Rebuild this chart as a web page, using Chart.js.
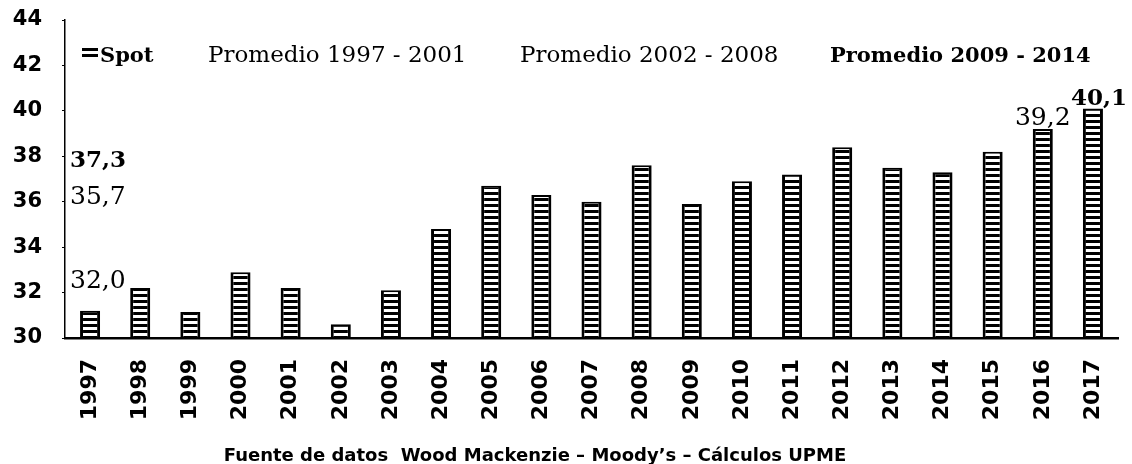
<!DOCTYPE html>
<html>
<head>
<meta charset="utf-8">
<script src="https://cdn.jsdelivr.net/npm/chart.js@4.4.1/dist/chart.umd.min.js"></script>
<style>
  html, body { margin: 0; padding: 0; background: #fff; }
  #wrap { width: 1132px; height: 464px; position: relative; }
</style>
</head>
<body>
<div id="wrap"><canvas id="chart"></canvas></div>
<script>
// ---- data ----
const years = ['1997', '1998', '1999', '2000', '2001', '2002', '2003', '2004', '2005', '2006', '2007',
  '2008', '2009', '2010', '2011', '2012', '2013', '2014', '2015', '2016', '2017'];
const spotValues = [31.2, 32.2, 31.15, 32.9, 32.2, 30.6, 32.1, 34.8, 36.7, 36.3, 36.0,
  37.6, 35.9, 36.9, 37.2, 38.4, 37.5, 37.3, 38.2, 39.2, 40.1];
const seriesNames = ['Spot', 'Promedio 1997 - 2001', 'Promedio 2002 - 2008', 'Promedio 2009 - 2014'];
const promedioValues = [32.0, 35.7, 37.3];
const labeledYears = ['2016', '2017'];
const yTicks = [30, 32, 34, 36, 38, 40, 42, 44];
const sourceNote = 'Fuente de datos  Wood Mackenzie \u2013 Moody\u2019s \u2013 C\u00e1lculos UPME';

const fmt = v => v.toFixed(1).replace('.', ',');

const canvas = document.getElementById('chart');
const ctx = canvas.getContext('2d');

// horizontal black/white bands, like the scanned hatch
function stripes() {
  const c = document.createElement('canvas');
  c.width = 1; c.height = 6;
  const g = c.getContext('2d');
  g.fillStyle = '#fff'; g.fillRect(0, 0, 1, 6);
  g.fillStyle = '#000'; g.fillRect(0, 0, 1, 3);
  return ctx.createPattern(c, 'repeat');
}
const hatch = stripes();

// legend, average labels, bar labels and source note
const extras = {
  id: 'extras',
  afterDraw(chart) {
    const g = chart.ctx;
    const y = chart.scales.y;
    g.save();
    g.fillStyle = '#000';
    g.textBaseline = 'alphabetic';
    g.textAlign = 'left';

    // legend
    g.fillStyle = hatch;
    g.fillRect(82, 47, 16, 11);
    g.fillStyle = '#000';
    const legX = [100, 208, 520, 830];
    const legBold = [true, false, false, true];
    seriesNames.forEach((name, i) => {
      g.font = (legBold[i] ? 'bold 21px' : '23px') + ' "DejaVu Serif"';
      g.fillText(name, legX[i], 62);
    });

    // averages, written at the left edge
    const avgBold = [false, false, true];
    promedioValues.forEach((v, i) => {
      g.font = (avgBold[i] ? 'bold 23px' : '25px') + ' "DejaVu Serif"';
      g.fillText(fmt(v), chart.chartArea.left + 5, y.getPixelForValue(v) - 5);
    });

    // values over the last bars
    const meta = chart.getDatasetMeta(0);
    g.textAlign = 'center';
    labeledYears.forEach((yr, k) => {
      const i = years.indexOf(yr);
      const bar = meta.data[i];
      g.font = (k === 1 ? 'bold 23px' : '25px') + ' "DejaVu Serif"';
      g.fillText(fmt(spotValues[i]), bar.x + (k === 1 ? 6 : 0), bar.y - 4);
    });

    // source
    g.font = 'bold 18px "DejaVu Sans"';
    g.fillText(sourceNote, 535, 461);
    g.restore();
  }
};

new Chart(canvas, {
  type: 'bar',
  data: {
    labels: years,
    datasets: [{
      label: seriesNames[0],
      data: spotValues,
      backgroundColor: hatch,
      borderColor: '#000',
      borderWidth: { left: 3, right: 3, top: 2, bottom: 0 },
      borderSkipped: false,
      barPercentage: 0.4,
      categoryPercentage: 1.0
    }]
  },
  options: {
    responsive: true,
    maintainAspectRatio: false,
    animation: false,
    layout: { padding: { top: 20, right: 14, left: 0, bottom: 0 } },
    plugins: {
      legend: { display: false },
      tooltip: { enabled: false }
    },
    scales: {
      x: {
        grid: { display: false, drawTicks: false },
        border: { display: true, color: '#000', width: 2.5 },
        ticks: {
          color: '#000',
          font: { family: 'DejaVu Sans', weight: 'bold', size: 22 },
          minRotation: 90,
          maxRotation: 90,
          autoSkip: false,
          padding: 21
        },
        afterFit: s => { s.height = 126; s.paddingLeft = 0; s.paddingRight = 0; }
      },
      y: {
        min: 30,
        max: 44,
        afterBuildTicks: s => { s.ticks = yTicks.map(v => ({ value: v })); },
        grid: { drawOnChartArea: false, drawTicks: true, tickLength: 3, color: '#000' },
        border: { display: true, color: '#000', width: 1.5 },
        ticks: {
          color: '#000',
          font: { family: 'DejaVu Sans', weight: 'bold', size: 21 },
          padding: 20
        },
        afterFit: s => { s.width = 65; s.paddingTop = 0; s.paddingBottom = 0; }
      }
    }
  },
  plugins: [extras]
});
</script>
</body>
</html>
